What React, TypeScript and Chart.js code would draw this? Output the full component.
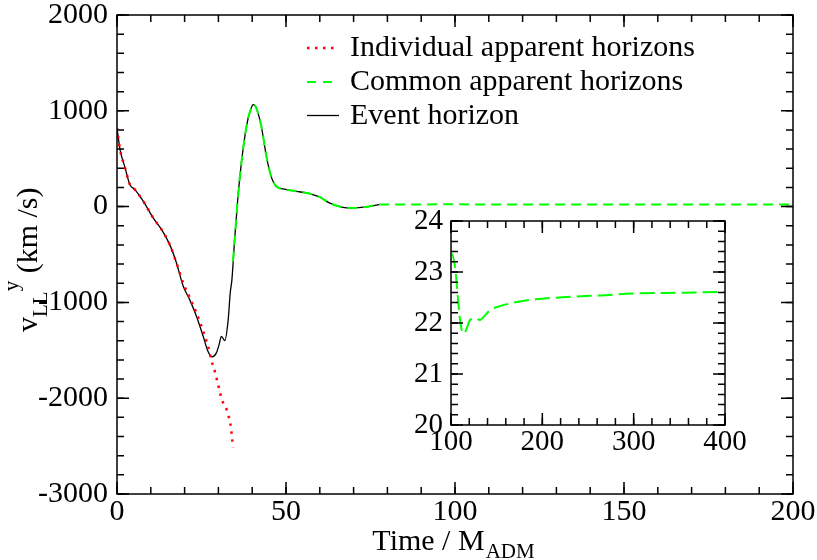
import React, { useEffect, useRef } from "react";
import { Chart, registerables } from "chart.js";
Chart.register(...registerables);

// ---- Data ----
const eventTimes = [0, 0.9, 2.4, 3.8, 5.3, 7.8, 10.7, 13.2, 15.6, 17.6, 19.6, 21.5, 23.5, 25.5, 26.9, 28.1, 29.4, 30.2, 30.9, 31.9, 32.9, 33.5, 34.0, 34.8, 35.8, 36.8, 38.3, 39.5, 40.3, 41.2, 42.7, 44.2, 45.6, 47.1, 49.1, 53, 56.9, 59.9, 62.8, 66.8, 69.7, 73.7, 77.6];
const eventVelocities = [820, 595, 404, 230, 177, 55, -118, -240, -397, -588, -832, -971, -1145, -1354, -1510, -1569, -1527, -1441, -1354, -1399, -1180, -901, -762, -345, 108, 456, 838, 1010, 1065, 1030, 838, 525, 316, 212, 185, 160, 136, 101, 39, -7, -14, -3, 21];

const individualTimes = [0, 0.9, 2.4, 3.8, 5.3, 7.8, 10.7, 13.2, 15.6, 17.6, 19.6, 21.5, 23.5, 26.0, 27.4, 27.9, 28.7, 29.9, 31.1, 32.2, 32.9, 33.5, 34.1, 34.3];
const individualVelocities = [820, 595, 404, 230, 177, 55, -118, -240, -397, -588, -800, -950, -1110, -1354, -1521, -1605, -1688, -1855, -2022, -2095, -2175, -2258, -2432, -2516];

const commonTimes = [34.3, 34.8, 35.8, 36.8, 38.3, 39.5, 40.3, 41.2, 42.7, 44.2, 45.6, 47.1, 49.1, 53, 56.9, 59.9, 62.8, 66.8, 69.7, 73.7, 77.6, 100.7, 104.4, 109.9, 113.5, 117.2, 120.8, 126.3, 131.8, 137.2, 142.7, 153.6, 171.9, 190.1, 226.6, 263.1, 299.6, 336.1, 400];
const commonVelocities = [-571, -345, 108, 456, 838, 1010, 1065, 1030, 838, 525, 316, 212, 185, 160, 136, 101, 39, -7, -14, -3, 21, 23.36, 23.1, 22.06, 21.79, 21.89, 22.06, 22.09, 22.06, 22.15, 22.25, 22.33, 22.41, 22.46, 22.51, 22.54, 22.58, 22.59, 22.61];

const legendLabels = ["Individual apparent horizons", "Common apparent horizons", "Event horizon"];
const xAxisTitle = ["Time / M", "ADM"];
const yAxisTitle = ["v", "LL", "y", " (km /s)"];

const mainXRange = [0, 200];
const mainYRange = [-3000, 2000];
const insetXRange = [100, 400];
const insetYRange = [20, 24];

const FONT = "'Liberation Serif', 'Times New Roman', serif";

function toPoints(xs: number[], ys: number[]) {
  return xs.map((x, i) => ({ x, y: ys[i] }));
}

// inward ticks + frame
const frameTicksPlugin = {
  id: "frameTicks",
  afterDatasetsDraw(chart: any, _args: any, opts: any) {
    const { ctx, chartArea: a, scales } = chart;
    const xs = scales.x;
    const ys = scales.y;
    ctx.save();
    ctx.strokeStyle = "#000";
    ctx.lineWidth = 1.5;
    ctx.lineCap = "butt";
    const doX = (step: number, len: number) => {
      const n = Math.round((xs.max - xs.min) / step);
      for (let i = 0; i <= n; i++) {
        const p = xs.getPixelForValue(xs.min + i * step);
        ctx.beginPath();
        ctx.moveTo(p, a.bottom);
        ctx.lineTo(p, a.bottom - len);
        ctx.moveTo(p, a.top);
        ctx.lineTo(p, a.top + len);
        ctx.stroke();
      }
    };
    const doY = (step: number, len: number) => {
      const n = Math.round((ys.max - ys.min) / step);
      for (let i = 0; i <= n; i++) {
        const p = ys.getPixelForValue(ys.min + i * step);
        ctx.beginPath();
        ctx.moveTo(a.left, p);
        ctx.lineTo(a.left + len, p);
        ctx.moveTo(a.right, p);
        ctx.lineTo(a.right - len, p);
        ctx.stroke();
      }
    };
    doX(opts.xMinor, 7);
    doX(opts.xMajor, 12);
    doY(opts.yMinor, 7);
    doY(opts.yMajor, 12);
    ctx.strokeRect(a.left, a.top, a.right - a.left, a.bottom - a.top);
    ctx.restore();
  },
};

const legendPlugin = {
  id: "innerLegend",
  afterDatasetsDraw(chart: any) {
    const { ctx } = chart;
    ctx.save();
    ctx.font = `30px ${FONT}`;
    ctx.fillStyle = "#000";
    ctx.textBaseline = "alphabetic";
    ctx.textAlign = "left";
    const baselines = [56, 90, 123.5];
    chart.data.datasets.forEach((ds: any, i: number) => {
      const yb = baselines[i];
      ctx.save();
      ctx.strokeStyle = ds.borderColor;
      ctx.lineWidth = ds.borderWidth;
      ctx.setLineDash(ds.legendDash || []);
      ctx.beginPath();
      ctx.moveTo(307, yb - 8);
      ctx.lineTo(339, yb - 8);
      ctx.stroke();
      ctx.restore();
      ctx.fillText(ds.label, 350, yb);
    });
    ctx.restore();
  },
};

const titlesPlugin = {
  id: "axisTitles",
  afterDraw(chart: any) {
    const { ctx } = chart;
    ctx.save();
    ctx.fillStyle = "#000";
    ctx.textBaseline = "alphabetic";
    ctx.textAlign = "left";
    // x title
    ctx.font = `30px ${FONT}`;
    const w0 = ctx.measureText(xAxisTitle[0]).width;
    ctx.font = `21px ${FONT}`;
    const w1 = ctx.measureText(xAxisTitle[1]).width;
    const x0 = 453 - (w0 + w1) / 2;
    ctx.font = `30px ${FONT}`;
    ctx.fillText(xAxisTitle[0], x0, 550);
    ctx.font = `21px ${FONT}`;
    ctx.fillText(xAxisTitle[1], x0 + w0 + 1, 558);
    // y title rotated
    ctx.translate(37, 332);
    ctx.rotate(-Math.PI / 2);
    let x = 0;
    ctx.font = `30px ${FONT}`;
    ctx.fillText(yAxisTitle[0], x, 0);
    x += ctx.measureText(yAxisTitle[0]).width;
    ctx.font = `21px ${FONT}`;
    ctx.fillText(yAxisTitle[1], x, 10);
    x += ctx.measureText(yAxisTitle[1]).width;
    ctx.fillText(yAxisTitle[2], x, -19);
    x += ctx.measureText(yAxisTitle[2]).width;
    ctx.font = `30px ${FONT}`;
    ctx.fillText(yAxisTitle[3], x, 0);
    ctx.restore();
  },
};

const zeroPadX = (s: any, h: number) => {
  s.height = h;
  s.paddingLeft = 0;
  s.paddingRight = 0;
};
const zeroPadY = (s: any, w: number) => {
  s.width = w;
  s.paddingTop = 0;
  s.paddingBottom = 0;
};

export default function App() {
  const mainRef = useRef<HTMLCanvasElement>(null);
  const insetRef = useRef<HTMLCanvasElement>(null);

  useEffect(() => {
    const tickFont = { family: FONT, size: 30 };
    const main = new Chart(mainRef.current as HTMLCanvasElement, {
      type: "line",
      data: {
        datasets: [
          {
            label: legendLabels[0],
            data: toPoints(individualTimes, individualVelocities),
            borderColor: "#ff0000",
            borderWidth: 2.5,
            borderDash: [2.5, 5.5],
            legendDash: [2.5, 5.5],
            pointRadius: 0,
            cubicInterpolationMode: "monotone",
            fill: false,
          } as any,
          {
            label: legendLabels[1],
            data: toPoints(commonTimes, commonVelocities),
            borderColor: "#00ff00",
            borderWidth: 2,
            borderDash: [10, 6],
            legendDash: [9, 7],
            pointRadius: 0,
            cubicInterpolationMode: "monotone",
            fill: false,
          } as any,
          {
            label: legendLabels[2],
            data: toPoints(eventTimes, eventVelocities),
            borderColor: "#000000",
            borderWidth: 1.3,
            pointRadius: 0,
            cubicInterpolationMode: "monotone",
            fill: false,
          } as any,
        ],
      },
      options: {
        animation: false,
        responsive: false,
        devicePixelRatio: 1,
        events: [],
        layout: { padding: { top: 15, right: 24, left: 0, bottom: 0 } },
        plugins: {
          legend: { display: false },
          tooltip: { enabled: false },
          frameTicks: { xMajor: 50, xMinor: 10, yMajor: 1000, yMinor: 200 },
        } as any,
        scales: {
          x: {
            type: "linear",
            min: mainXRange[0],
            max: mainXRange[1],
            ticks: { stepSize: 50, font: tickFont, color: "#000", padding: 0, autoSkip: false, maxRotation: 0, callback: (v: any) => String(v) },
            grid: { display: false, drawTicks: false },
            border: { display: false },
            afterFit: (s: any) => zeroPadX(s, 66),
          },
          y: {
            type: "linear",
            min: mainYRange[0],
            max: mainYRange[1],
            ticks: { stepSize: 1000, font: tickFont, color: "#000", padding: 9, autoSkip: false, callback: (v: any) => String(v) },
            grid: { display: false, drawTicks: false },
            border: { display: false },
            afterFit: (s: any) => zeroPadY(s, 117),
          },
        },
      },
      plugins: [frameTicksPlugin, legendPlugin, titlesPlugin],
    });

    const inset = new Chart(insetRef.current as HTMLCanvasElement, {
      type: "line",
      data: {
        datasets: [
          {
            label: legendLabels[1],
            data: toPoints(commonTimes, commonVelocities),
            borderColor: "#00ff00",
            borderWidth: 2,
            borderDash: [15, 6],
            pointRadius: 0,
            cubicInterpolationMode: "monotone",
            fill: false,
          } as any,
        ],
      },
      options: {
        animation: false,
        responsive: false,
        devicePixelRatio: 1,
        events: [],
        layout: { padding: { top: 21, right: 35, left: 0, bottom: 0 } },
        plugins: {
          legend: { display: false },
          tooltip: { enabled: false },
          frameTicks: { xMajor: 100, xMinor: 20, yMajor: 1, yMinor: 0.2 },
        } as any,
        scales: {
          x: {
            type: "linear",
            min: insetXRange[0],
            max: insetXRange[1],
            ticks: { stepSize: 100, font: { family: FONT, size: 29 }, color: "#000", padding: 0, autoSkip: false, maxRotation: 0, callback: (v: any) => String(v) },
            grid: { display: false, drawTicks: false },
            border: { display: false },
            afterFit: (s: any) => zeroPadX(s, 35),
          },
          y: {
            type: "linear",
            min: insetYRange[0],
            max: insetYRange[1],
            ticks: { stepSize: 1, font: { family: FONT, size: 29 }, color: "#000", padding: 8, autoSkip: false, callback: (v: any) => String(v) },
            grid: { display: false, drawTicks: false },
            border: { display: false },
            afterFit: (s: any) => zeroPadY(s, 51),
          },
        },
      },
      plugins: [frameTicksPlugin],
    });

    return () => {
      main.destroy();
      inset.destroy();
    };
  }, []);

  return (
    <div style={{ position: "fixed", left: 0, top: 0, width: 817, height: 560, background: "#fff" }}>
      <canvas ref={mainRef} width={817} height={560} style={{ position: "absolute", left: 0, top: 0, width: 817, height: 560 }} />
      <canvas ref={insetRef} width={360} height={260} style={{ position: "absolute", left: 400, top: 200, width: 360, height: 260 }} />
    </div>
  );
}
